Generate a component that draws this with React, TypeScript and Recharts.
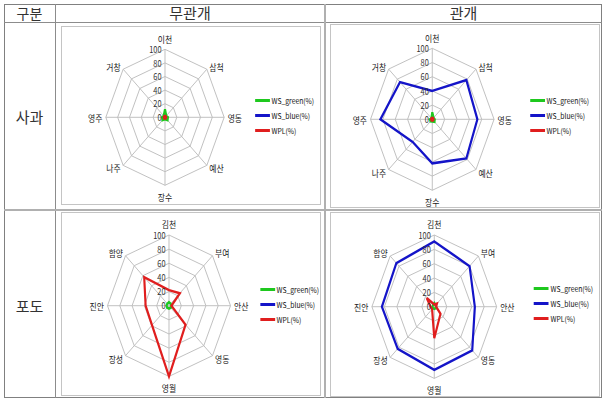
import {
  RadarChart,
  PolarGrid,
  PolarAngleAxis,
  PolarRadiusAxis,
  Radar,
  Legend,
} from 'recharts';

const appleRegions = ['이천', '삼척', '영동', '예산', '장수', '나주', '영주', '거창'];
const grapeRegions = ['김천', '부여', '안산', '영동', '영월', '장성', '진안', '함양'];
const radiusTicks = [0, 20, 40, 60, 80, 100];

// 사과 무관개
const appleDryGreen = [12, 3, 5, 6, 3, 6, 5, 3];
const appleDryBlue = [0, 0, 0, 0, 0, 0, 0, 0];
const appleDryWpl = [2, 2, 2, 2, 2, 2, 2, 2];
// 사과 관개
const appleIrrGreen = [10, 3, 4, 5, 3, 4, 4, 2];
const appleIrrBlue = [40, 78, 73, 78, 62, 45, 84, 74];
const appleIrrWpl = [2, 2, 2, 2, 2, 2, 2, 2];
// 포도 무관개
const grapeDryGreen = [5, 4, 4, 4, 4, 4, 4, 4];
const grapeDryBlue = [0, 0, 0, 0, 0, 0, 0, 0];
const grapeDryWpl = [22, 25, 4, 38, 100, 39, 38, 57];
// 포도 관개
const grapeIrrGreen = [5, 3, 3, 3, 3, 3, 3, 3];
const grapeIrrBlue = [91, 80, 65, 86, 88, 83, 84, 86];
const grapeIrrWpl = [3, 6, 3, 14, 44, 5, 6, 17];

const SCALE_X = 0.87;
const FONT = "'Noto Sans CJK KR', 'Noto Sans', sans-serif";

const COLORS: Record<string, string> = {
  green: '#1ec81e',
  blue: '#1414c8',
  wpl: '#e01e1e',
};
const seriesOrder = ['green', 'blue', 'wpl'];

interface Box {
  x: number;
  y: number;
  w: number;
  h: number;
}

interface ChartProps {
  box: Box;
  center: [number, number];
  r: number;
  legendAt: [number, number];
  regions: string[];
  green: number[];
  blue: number[];
  wpl: number[];
}

function LegendBox({ payload }: any) {
  const items = [...(payload || [])].sort(
    (a: any, b: any) => seriesOrder.indexOf(a.dataKey) - seriesOrder.indexOf(b.dataKey)
  );
  return (
    <div style={{ fontFamily: FONT, fontSize: 7.8, color: '#111', whiteSpace: 'nowrap' }}>
      {items.map((e: any) => (
        <div key={e.value} style={{ display: 'flex', alignItems: 'center', height: 15 }}>
          <span
            style={{
              display: 'inline-block',
              width: 17,
              height: 3,
              background: COLORS[e.dataKey] || e.color,
              marginRight: 2,
            }}
          />
          <span>{e.value}</span>
        </div>
      ))}
    </div>
  );
}

function RegionChart({ box, center, r, legendAt, regions, green, blue, wpl }: ChartProps) {
  const data = regions.map((region, i) => ({
    region,
    green: green[i],
    blue: blue[i],
    wpl: wpl[i],
  }));
  const w = box.w / SCALE_X;
  const cx = (center[0] - box.x) / SCALE_X;
  const cy = center[1] - box.y;
  const lx = (legendAt[0] - box.x) / SCALE_X;
  const ly = legendAt[1] - box.y;

  const angleTick = (p: any) => {
    let dy = 0;
    if (p.textAnchor === 'middle') dy = p.y < cy ? -7 : 7;
    return (
      <text
        x={p.x}
        y={p.y + dy}
        textAnchor={p.textAnchor}
        dominantBaseline="central"
        fontSize={9}
        fontFamily={FONT}
        fill="#222"
      >
        {p.payload.value}
      </text>
    );
  };

  const radiusTick = (p: any) => (
    <text
      x={p.x - 4}
      y={p.y}
      textAnchor="end"
      dominantBaseline="central"
      fontSize={8.5}
      fontFamily={FONT}
      fill="#333"
    >
      {p.payload.value}
    </text>
  );

  return (
    <div
      style={{
        position: 'absolute',
        left: box.x,
        top: box.y,
        width: box.w,
        height: box.h,
        outline: '1px solid #c4c4c4',
        overflow: 'hidden',
        background: '#fff',
      }}
    >
      <div style={{ transform: `scaleX(${SCALE_X})`, transformOrigin: '0 0', width: w, height: box.h }}>
        <RadarChart
          width={w}
          height={box.h}
          data={data}
          cx={cx}
          cy={cy}
          outerRadius={r}
          margin={{ top: 0, right: 0, bottom: 0, left: 0 }}
        >
          <PolarGrid gridType="polygon" stroke="#bdbdbd" />
          <PolarAngleAxis
            dataKey="region"
            tickSize={4}
            axisLine={false}
            tickLine={false}
            tick={angleTick}
          />
          <PolarRadiusAxis
            angle={90}
            domain={[radiusTicks[0], radiusTicks[radiusTicks.length - 1]]}
            tickCount={radiusTicks.length}
            axisLine={false}
            tickLine={false}
            tick={radiusTick}
          />
          <Radar
            dataKey="green"
            name="WS_green(%)"
            stroke={COLORS.green}
            fill="none"
            strokeWidth={2.5}
            dot={false}
            isAnimationActive={false}
          />
          <Radar
            dataKey="blue"
            name="WS_blue(%)"
            stroke={COLORS.blue}
            fill="none"
            strokeWidth={2.5}
            dot={false}
            isAnimationActive={false}
          />
          <Radar
            dataKey="wpl"
            name="WPL(%)"
            stroke={COLORS.wpl}
            fill="none"
            strokeWidth={2.5}
            dot={false}
            isAnimationActive={false}
          />
          <Legend
            layout="vertical"
            align="right"
            verticalAlign="top"
            content={<LegendBox />}
            wrapperStyle={{ left: lx, top: ly, right: 'auto', bottom: 'auto', width: 'auto' }}
          />
        </RadarChart>
      </div>
    </div>
  );
}

const line = (x: number, y: number, w: number, h: number, color: string) => (
  <div style={{ position: 'absolute', left: x, top: y, width: w, height: h, background: color }} />
);

const cellText = (text: string, x: number, y: number, w: number, size: number) => (
  <div
    style={{
      position: 'absolute',
      left: x,
      top: y - 12,
      width: w,
      height: 24,
      lineHeight: '24px',
      textAlign: 'center',
      fontSize: size,
      fontFamily: FONT,
      color: '#333',
    }}
  >
    {text}
  </div>
);

export default function App() {
  return (
    <div
      style={{
        position: 'absolute',
        left: 0,
        top: 0,
        width: 611,
        height: 405,
        background: '#fff',
        overflow: 'hidden',
      }}
    >
      {/* table frame */}
      {line(4, 4, 598, 1, '#808080')}
      {line(4, 397, 598, 1, '#808080')}
      {line(4, 4, 1, 394, '#808080')}
      {line(601, 4, 1, 394, '#808080')}
      {line(4, 22, 598, 1, '#8c8c8c')}
      {line(55, 4, 1, 394, '#8c8c8c')}
      {line(324, 4, 2, 394, '#b0b0b0')}
      {line(4, 209, 598, 2, '#b0b0b0')}

      {cellText('구분', 4, 13, 51, 14)}
      {cellText('무관개', 55, 13, 270, 15)}
      {cellText('관개', 325, 13, 277, 15)}
      {cellText('사과', 4, 117, 51, 15)}
      {cellText('포도', 4, 306, 51, 15)}

      <RegionChart
        box={{ x: 62, y: 27, w: 258, h: 177 }}
        center={[165, 117.3]}
        r={68}
        legendAt={[255, 93]}
        regions={appleRegions}
        green={appleDryGreen}
        blue={appleDryBlue}
        wpl={appleDryWpl}
      />
      <RegionChart
        box={{ x: 331, y: 25, w: 268, h: 182 }}
        center={[432.3, 119.3]}
        r={71}
        legendAt={[530, 92.5]}
        regions={appleRegions}
        green={appleIrrGreen}
        blue={appleIrrBlue}
        wpl={appleIrrWpl}
      />
      <RegionChart
        box={{ x: 62, y: 213, w: 258, h: 182 }}
        center={[169, 305.7]}
        r={70.7}
        legendAt={[260, 281.5]}
        regions={grapeRegions}
        green={grapeDryGreen}
        blue={grapeDryBlue}
        wpl={grapeDryWpl}
      />
      <RegionChart
        box={{ x: 331, y: 213, w: 268, h: 183 }}
        center={[434.3, 306.7]}
        r={71.7}
        legendAt={[534, 280.5]}
        regions={grapeRegions}
        green={grapeIrrGreen}
        blue={grapeIrrBlue}
        wpl={grapeIrrWpl}
      />
    </div>
  );
}
